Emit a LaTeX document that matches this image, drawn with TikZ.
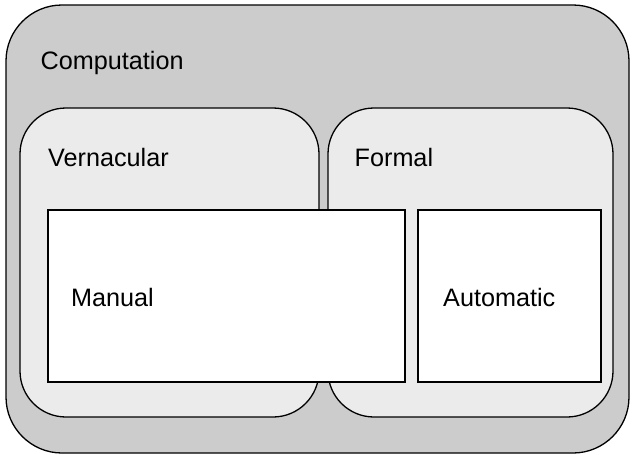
\documentclass[tikz,border=0pt]{standalone}
\usepackage{fontspec}
\setmainfont{Liberation Sans}
\begin{document}
\begin{tikzpicture}[x=1pt,y=-1pt,
  region/.style={draw=black,line width=1.3pt},
  outerbox/.style={region,fill=black!20,rounded corners=56pt},
  innerbox/.style={region,fill=black!8,rounded corners=46pt},
  leafbox/.style={region,fill=white},
  lbl/.style={anchor=base west,inner sep=0pt,font=\fontsize{25.2}{29}\selectfont}]
  \useasboundingbox (0,0) rectangle (632,455);
  % nested regions
  \draw[outerbox] (6,5) rectangle (629,453);
  \draw[innerbox] (20,108) rectangle (319,417);
  \draw[innerbox] (328,108) rectangle (613,417);
  \draw[leafbox] (48,210) rectangle (405,382);
  \draw[leafbox] (418,210) rectangle (601,382);
  % labels
  \node[lbl] (comp) at (40.5,69.5) {Computation};
  \node[lbl] (vern) at (48,166) {Vernacular};
  \node[lbl] (form) at (354.5,166) {Formal};
  \node[lbl] (man) at (71,306) {Manual};
  \node[lbl] (auto) at (443,306) {Automatic};
\end{tikzpicture}
\end{document}
